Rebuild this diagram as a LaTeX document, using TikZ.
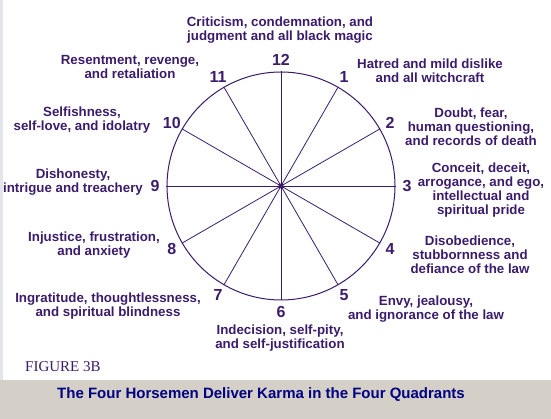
\documentclass[tikz,border=0pt]{standalone}
\usepackage{fontspec}
\setmainfont{Liberation Sans}
\newfontfamily\capfont{Liberation Serif}
\usepackage{xcolor}
\definecolor{ink}{HTML}{3B1C6B}
\definecolor{band}{HTML}{D4D0C8}
\definecolor{navy}{HTML}{000080}
\definecolor{edge}{HTML}{E2E6EA}

\begin{document}
\begin{tikzpicture}[
  x=1pt, y=1pt,
  lbl/.style={text=ink, font=\bfseries\fontsize{13.3}{14}\selectfont, align=center, inner sep=0pt},
  num/.style={text=ink, font=\bfseries\fontsize{16}{16}\selectfont, inner sep=0pt},
  spoke/.style={draw=ink, line width=0.8pt}
]
\useasboundingbox (-281,-233) rectangle (270,186);
\fill[band] (-281,-233) rectangle (270,-194);
\fill[edge] (-281,-194) rectangle (-278,186);

\node[circle, draw=ink, line width=1pt, minimum size=228pt, inner sep=0pt] (rim) at (0,0) {};
\node[circle, fill=ink, minimum size=5pt, inner sep=0pt] (hub) at (0,0) {};
\foreach \k in {1,...,12} {
  \pgfmathtruncatemacro\a{90-30*\k}
  \draw[spoke] (hub.center) -- (rim.\a);
  \node[num] (num\k) at (\a:126) {\k};
}

\node[lbl] (lab12) at (-1,156) {Criticism, condemnation, and\\judgment and all black magic};
\node[lbl] (lab1) at (149,115) {Hatred and mild dislike\\and all witchcraft};
\node[lbl] (lab2) at (190,59) {Doubt, fear,\\human questioning,\\and records of death};
\node[lbl] (lab3) at (200,-4) {Conceit, deceit,\\arrogance, and ego,\\intellectual and\\spiritual pride};
\node[lbl] (lab4) at (189,-69) {Disobedience,\\stubbornness and\\defiance of the law};
\node[lbl] (lab5) at (145,-123) {Envy, jealousy,\\and ignorance of the law};
\node[lbl] (lab6) at (-1,-152) {Indecision, self-pity,\\and self-justification};
\node[lbl] (lab7) at (-173,-120) {Ingratitude, thoughtlessness,\\and spiritual blindness};
\node[lbl] (lab8) at (-187,-59) {Injustice, frustration,\\and anxiety};
\node[lbl] (lab9) at (-208,4) {Dishonesty,\\intrigue and treachery};
\node[lbl] (lab10) at (-199,66) {Selfishness,\\self-love, and idolatry};
\node[lbl] (lab11) at (-151,119) {Resentment, revenge,\\and retaliation};

\node[anchor=west, text=ink, inner sep=0pt, font=\capfont\fontsize{15}{15}\selectfont] (fig) at (-256,-181) {FIGURE 3B};
\node[text=navy, inner sep=0pt, font=\bfseries\fontsize{15}{15}\selectfont] (title) at (-20,-209) {The Four Horsemen Deliver Karma in the Four Quadrants};
\end{tikzpicture}
\end{document}
